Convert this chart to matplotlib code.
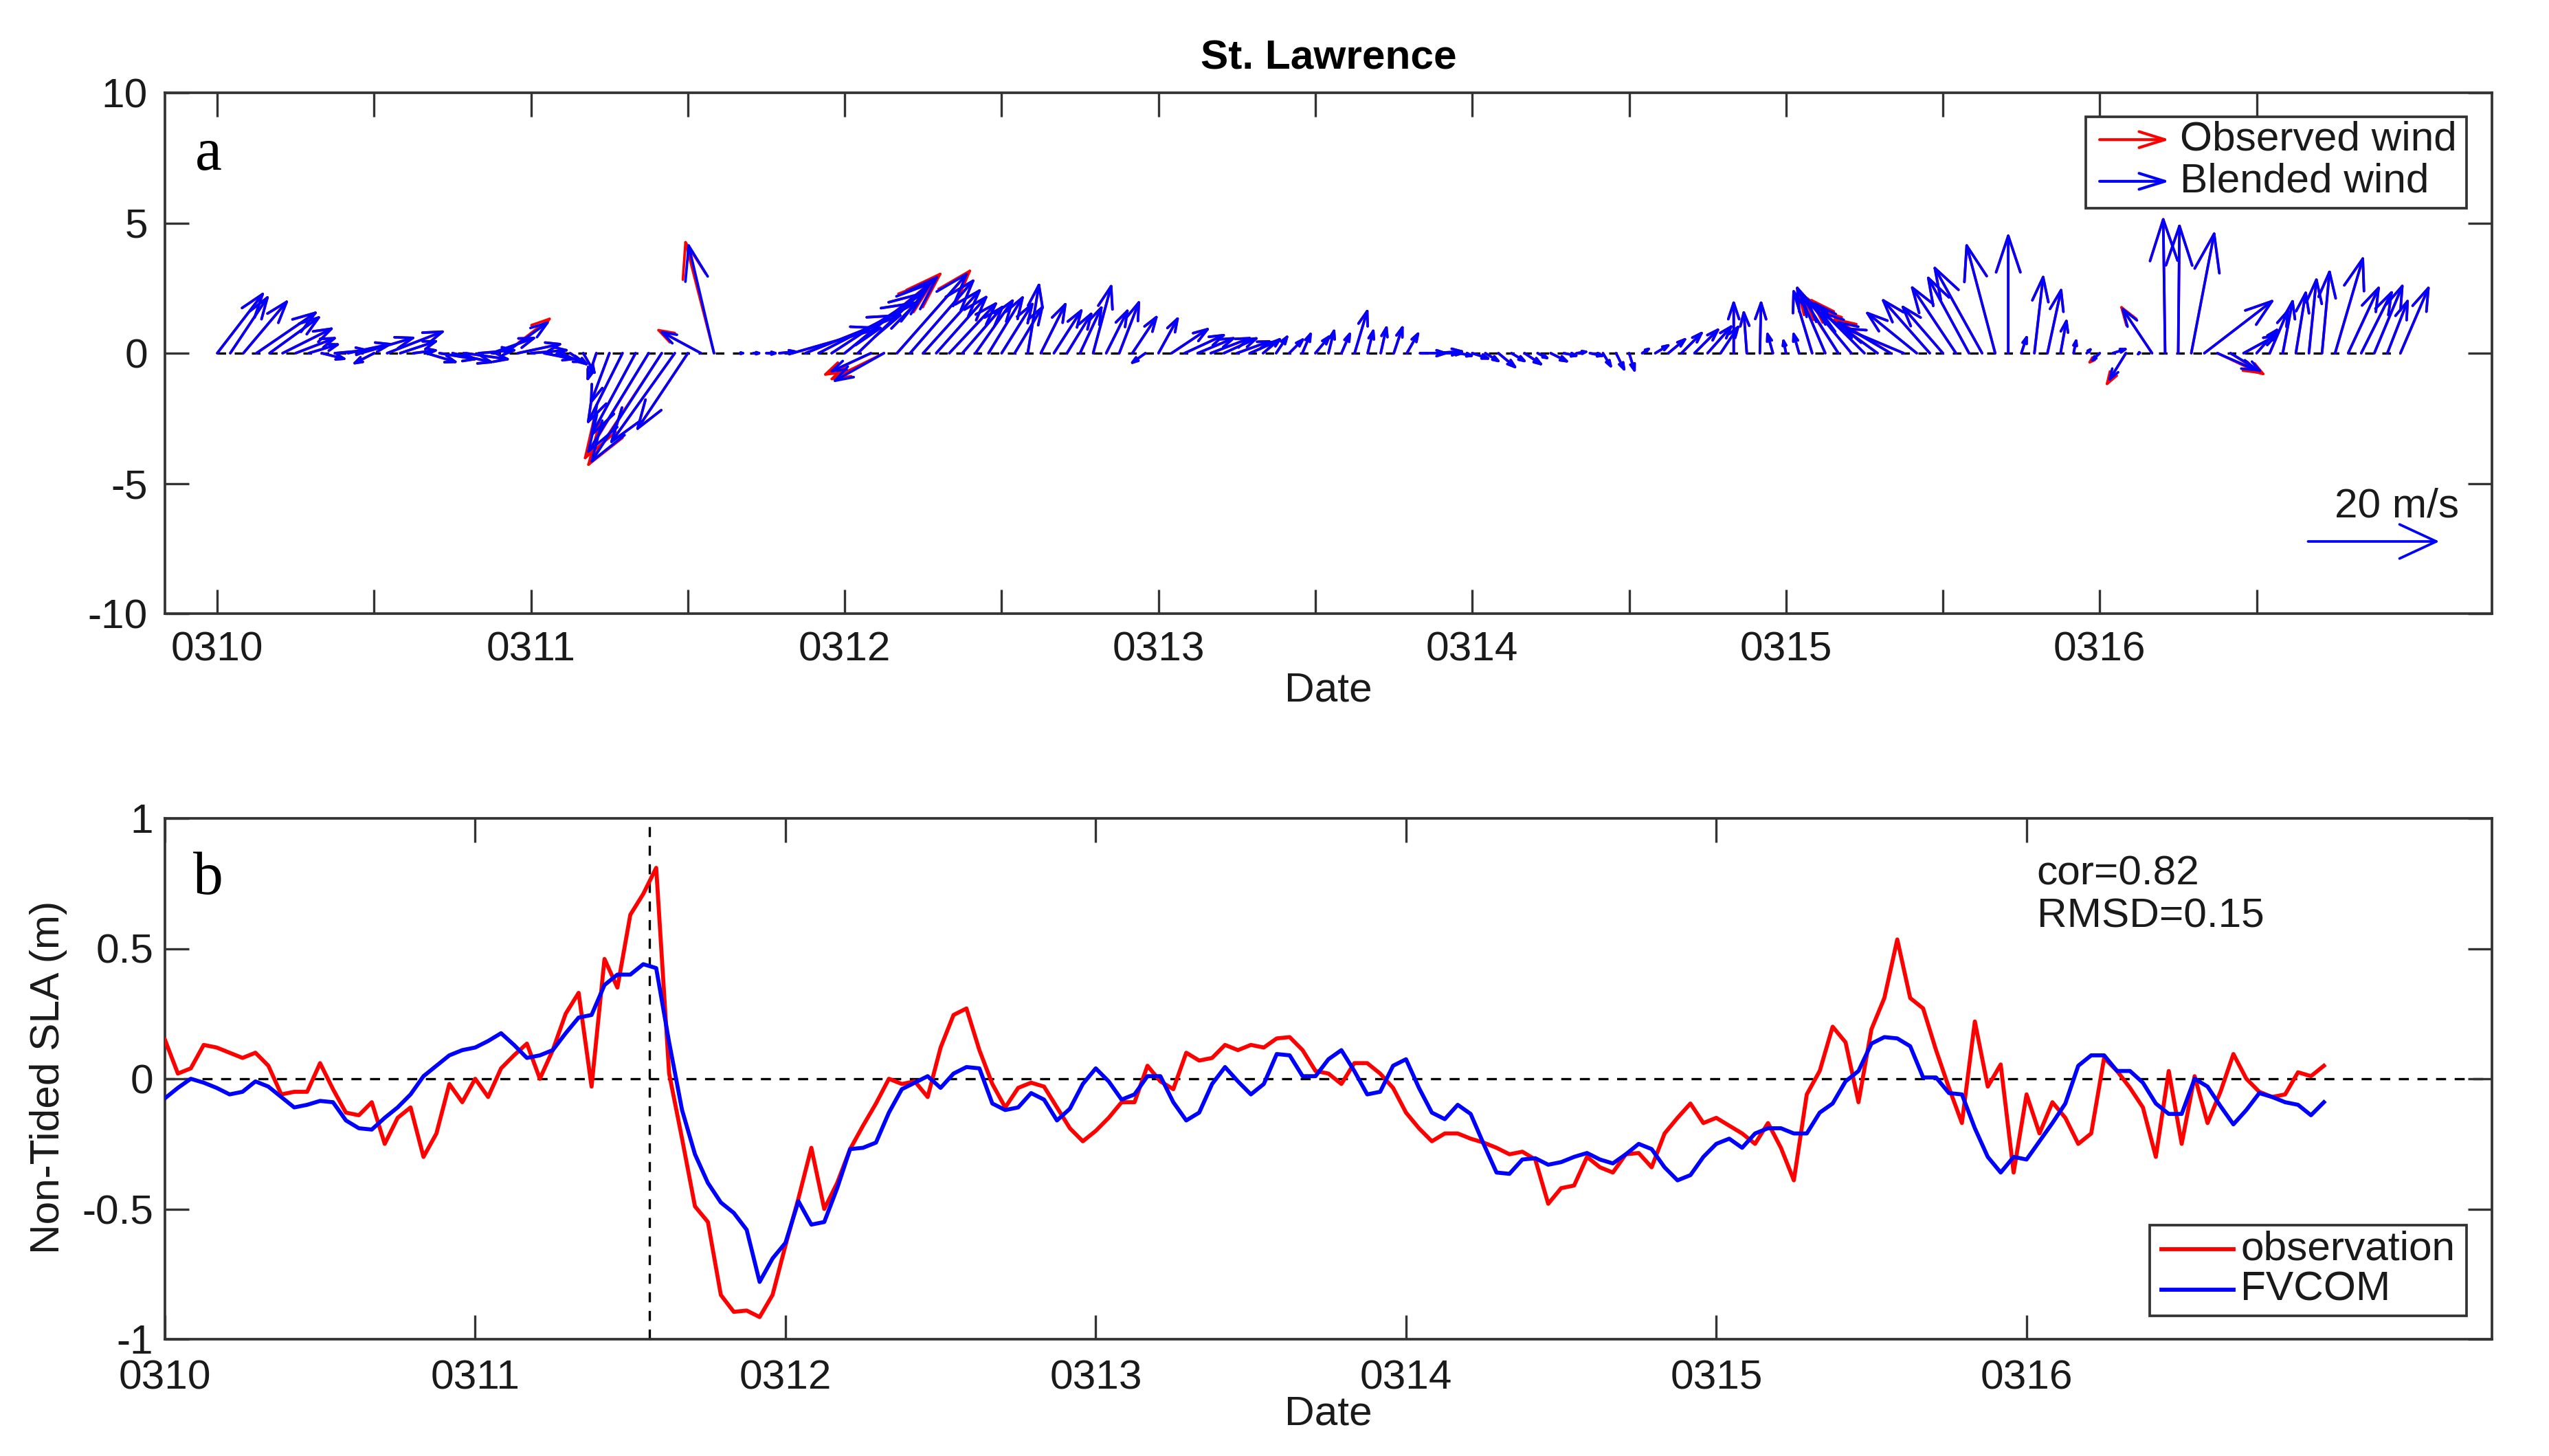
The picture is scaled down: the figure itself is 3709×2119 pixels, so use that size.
import numpy as np
import matplotlib
matplotlib.use("Agg")
import matplotlib.pyplot as plt
from matplotlib.patches import Rectangle, ArrowStyle

plt.rcParams['font.family'] = ['Liberation Sans', 'DejaVu Sans']
plt.rcParams['axes.unicode_minus'] = False
plt.rcParams['lines.scale_dashes'] = False

# ------------------------------------------------------------------ data
date_labels = ['0310', '0311', '0312', '0313', '0314', '0315', '0316']
title_text = 'St. Lawrence'

wind_hours = np.arange(168)          # hours after 0310 00:00
blend_u = np.array([
    7.3, 6.0, 7.0, 9.5, 8.0, 8.0, 6.5, 5.0, 4.0, 5.5,
    7.0, 8.5, -3.5, 9.0, 6.0, 4.0, 5.0, 6.0, 6.5, 7.0,
    6.0, 7.0, 7.0, 7.0, 6.0, 5.0, 4.5, 3.0, 2.0, -1.5,
    -3.0, -5.5, -7.0, -9.5, -11.0, -10.0, -8.0, -6.5, -4.0, 0.0,
    1.0, 1.5, 2.0, 3.0, 14.0, 15.0, 15.5, 14.5, 13.5, 12.5,
    -6.5, -8.0, 11.0, 10.0, 9.0, 8.0, 7.5, 6.5, 6.0, 5.5,
    5.0, 4.5, 1.8, 4.0, 4.5, 4.0, 3.5, 2.9, 3.5, 3.2,
    4.0, -2.5, 3.2, 6.0, 6.5, 6.0, 6.5, 5.5, 5.5, 4.5,
    3.0, 2.0, 2.5, 1.5, 2.5, 1.0, 1.5, 2.1, 1.0, 1.0,
    1.5, 2.0, 4.5, 5.0, 3.0, 2.5, 3.0, 2.5, 3.0, 2.5,
    3.0, 2.0, 3.0, 2.5, 2.0, 2.5, 1.5, 1.5, 1.0, 1.5,
    2.5, 3.0, 3.5, 4.0, 4.0, 3.0, 0.0, -0.5, 0.2, -1.0,
    -0.5, -1.0, -3.0, -4.5, -6.0, -7.0, -8.0, -9.0, -8.5, -9.5,
    -8.0, -7.5, -6.5, -7.0, -6.5, -7.5, -4.5, 0.0, 1.0, 1.4,
    2.2, 1.0, 0.5, 1.0, -1.6, 2.5, -2.8, -0.5, -4.8, -0.3,
    0.2, 3.6, 10.8, 6.4, 5.0, 5.5, 3.5, 3.0, 1.6, 1.6,
    1.2, 1.2, 4.4, 4.9, 4.9, 4.5, 3.3, 4.5])
blend_v = np.array([
    9.5, 9.0, 8.3, 6.5, 5.8, 4.0, 2.5, 1.5, -1.0, 0.5,
    1.5, 2.5, -1.8, 3.5, 2.0, 0.5, -1.5, -1.0, -1.5, -1.0,
    0.5, 2.5, 5.0, 1.5, 0.5, -1.0, -1.5, -2.0, -3.5, -4.5,
    -8.0, -11.0, -13.0, -15.5, -17.0, -14.0, -12.0, 3.5, 17.0, 0.0,
    0.0, 0.0, 0.0, 0.3, 4.0, 6.0, 8.0, 9.5, 11.0, 12.0,
    -3.0, -4.5, 12.5, 11.5, 10.0, 9.0, 8.0, 7.5, 8.5, 9.0,
    8.0, 7.5, 11.0, 8.0, 7.0, 6.5, 7.5, 10.8, 7.0, 8.3,
    6.0, -1.8, 5.8, 4.0, 3.0, 2.5, 2.5, 2.5, 2.0, 2.0,
    2.5, 3.0, 2.5, 3.5, 3.0, 4.0, 3.5, 7.0, 4.0, 4.5,
    4.5, 3.5, 0.0, 0.3, 0.0, -0.5, -1.0, -1.5, -2.5, -1.5,
    -2.0, -1.0, -1.5, -0.5, 0.3, -0.5, -2.5, -3.0, -3.2, 1.0,
    1.5, 2.5, 3.5, 4.0, 4.5, 4.5, 8.3, 6.8, 8.3, 3.5,
    2.5, 3.5, 10.0, 10.5, 9.5, 8.5, 8.0, 6.5, 5.0, 4.0,
    6.5, 8.5, 7.5, 10.5, 12.0, 13.5, 17.0, 18.5, 3.0, 12.2,
    10.2, 5.5, 2.5, 1.0, -1.5, 0.8, -4.5, -0.5, 7.2, 21.0,
    20.0, 18.8, 8.3, -2.8, -3.0, 3.0, 4.0, 7.0, 8.5, 9.8,
    11.8, 13.0, 15.0, 10.5, 9.8, 10.8, 8.5, 10.5])
obs_u = np.array([
    7.3, 6.0, 7.0, 9.5, 8.0, 8.0, 6.5, 5.0, 4.0, 5.5,
    7.0, 8.5, -3.5, 9.0, 6.0, 4.0, 5.0, 6.0, 6.5, 7.0,
    6.0, 7.0, 7.3, 7.0, 6.0, 5.0, 4.5, 3.0, 2.0, -1.5,
    -3.0, -5.5, -7.0, -10.0, -11.5, -10.0, -8.0, -7.0, -4.5, 0.0,
    1.0, 1.5, 2.0, 3.0, 14.0, 15.0, 15.5, 14.5, 14.0, 13.0,
    -7.5, -8.5, 11.5, 10.0, 9.0, 8.0, 7.5, 6.5, 6.0, 5.5,
    5.0, 4.5, 1.8, 4.0, 4.5, 4.0, 3.5, 2.9, 3.5, 3.2,
    4.0, -2.5, 3.2, 6.0, 6.5, 6.0, 6.5, 5.5, 5.5, 4.5,
    3.0, 2.0, 2.5, 1.5, 2.5, 1.0, 1.5, 2.1, 1.0, 1.0,
    1.5, 2.0, 4.5, 5.0, 3.0, 2.5, 3.0, 2.5, 3.0, 2.5,
    3.0, 2.0, 3.0, 2.5, 2.0, 2.5, 1.5, 1.5, 1.0, 1.5,
    2.5, 3.0, 3.5, 4.0, 4.0, 3.0, 0.0, -0.5, 0.2, -1.0,
    -0.5, -1.0, -3.0, -4.5, -6.5, -7.5, -8.5, -9.5, -9.0, -9.5,
    -8.0, -7.5, -6.5, -7.0, -6.5, -7.5, -4.5, 0.0, 1.0, 1.4,
    2.2, 1.0, 0.5, 1.0, -2.0, 2.5, -3.2, -0.5, -5.0, -0.3,
    0.2, 3.6, 10.8, 6.8, 5.5, 5.5, 3.5, 3.0, 1.6, 1.6,
    1.2, 1.2, 4.4, 4.9, 4.9, 4.5, 3.3, 4.5])
obs_v = np.array([
    9.5, 9.0, 8.3, 6.5, 5.8, 4.0, 2.5, 1.5, -1.0, 0.5,
    1.5, 2.5, -1.8, 3.5, 2.0, 0.5, -1.5, -1.0, -1.5, -1.0,
    0.5, 2.5, 5.6, 1.5, 0.5, -1.0, -1.5, -2.0, -3.5, -4.5,
    -8.0, -11.0, -13.0, -16.5, -17.5, -14.0, -12.0, 3.8, 17.5, 0.0,
    0.0, 0.0, 0.0, 0.3, 4.0, 6.0, 8.0, 9.5, 11.5, 12.5,
    -3.5, -4.2, 13.0, 11.5, 10.0, 9.0, 8.0, 7.5, 8.5, 9.0,
    8.0, 7.5, 11.0, 8.0, 7.0, 6.5, 7.5, 10.8, 7.0, 8.3,
    6.0, -1.8, 5.8, 4.0, 3.0, 2.5, 2.5, 2.5, 2.0, 2.0,
    2.5, 3.0, 2.5, 3.5, 3.0, 4.0, 3.5, 7.0, 4.0, 4.5,
    4.5, 3.5, 0.0, 0.3, 0.0, -0.5, -1.0, -1.5, -2.5, -1.5,
    -2.0, -1.0, -1.5, -0.5, 0.3, -0.5, -2.5, -3.0, -3.2, 1.0,
    1.5, 2.5, 3.5, 4.0, 4.5, 4.5, 8.3, 6.8, 8.3, 3.5,
    2.5, 3.5, 10.0, 10.5, 10.0, 9.0, 8.5, 7.0, 5.5, 4.0,
    6.5, 8.5, 7.5, 10.5, 12.0, 13.5, 17.0, 18.5, 3.0, 12.2,
    10.2, 5.5, 2.5, 1.0, -1.8, 0.8, -5.2, -0.5, 7.5, 21.0,
    20.0, 18.8, 8.3, -3.2, -3.5, 3.0, 4.0, 7.0, 8.5, 9.8,
    11.8, 13.0, 15.0, 10.5, 9.8, 10.8, 8.5, 10.5])

sla_hours = np.arange(168)
sla_obs = np.array([
    0.15, 0.02, 0.04, 0.13, 0.12, 0.10, 0.08, 0.10, 0.05, -0.06,
    -0.05, -0.05, 0.06, -0.04, -0.13, -0.14, -0.09, -0.25, -0.15, -0.11,
    -0.30, -0.21, -0.02, -0.09, 0.00, -0.07, 0.04, 0.09, 0.135, 0.00,
    0.11, 0.25, 0.33, -0.03, 0.46, 0.35, 0.63, 0.71, 0.81, 0.02,
    -0.23, -0.49, -0.55, -0.83, -0.895, -0.89, -0.915, -0.83, -0.64, -0.46,
    -0.265, -0.50, -0.40, -0.27, -0.18, -0.095, 0.00, -0.02, -0.01, -0.07,
    0.12, 0.245, 0.27, 0.11, -0.02, -0.11, -0.035, -0.015, -0.03, -0.11,
    -0.19, -0.24, -0.20, -0.15, -0.09, -0.09, 0.05, -0.01, -0.04, 0.10,
    0.07, 0.08, 0.13, 0.11, 0.13, 0.12, 0.155, 0.16, 0.11, 0.03,
    0.02, -0.02, 0.06, 0.06, 0.02, -0.035, -0.13, -0.19, -0.24, -0.21,
    -0.21, -0.23, -0.245, -0.265, -0.29, -0.28, -0.31, -0.48, -0.42, -0.41,
    -0.30, -0.34, -0.36, -0.29, -0.285, -0.34, -0.21, -0.15, -0.095, -0.17,
    -0.15, -0.18, -0.21, -0.25, -0.17, -0.265, -0.39, -0.06, 0.03, 0.20,
    0.14, -0.09, 0.19, 0.31, 0.535, 0.31, 0.27, 0.11, -0.035, -0.17,
    0.22, -0.03, 0.055, -0.36, -0.06, -0.21, -0.09, -0.15, -0.25, -0.21,
    0.08, 0.03, -0.035, -0.11, -0.30, 0.03, -0.25, 0.01, -0.17, -0.05,
    0.095, 0.0, -0.05, -0.07, -0.06, 0.025, 0.01, 0.05])
sla_fvcom = np.array([
    -0.075, -0.035, 0.0, -0.015, -0.035, -0.06, -0.05, -0.01, -0.03, -0.07,
    -0.11, -0.10, -0.085, -0.09, -0.16, -0.19, -0.195, -0.15, -0.11, -0.06,
    0.01, 0.05, 0.09, 0.11, 0.12, 0.145, 0.175, 0.13, 0.08, 0.09,
    0.11, 0.175, 0.235, 0.245, 0.36, 0.40, 0.40, 0.44, 0.425, 0.14,
    -0.12, -0.29, -0.40, -0.475, -0.515, -0.58, -0.78, -0.69, -0.63, -0.47,
    -0.56, -0.55, -0.42, -0.27, -0.265, -0.245, -0.13, -0.04, -0.015, 0.01,
    -0.035, 0.02, 0.045, 0.04, -0.095, -0.12, -0.11, -0.055, -0.08, -0.16,
    -0.115, -0.02, 0.04, -0.01, -0.08, -0.06, 0.01, 0.01, -0.09, -0.16,
    -0.13, -0.02, 0.045, -0.01, -0.06, -0.02, 0.095, 0.09, 0.01, 0.01,
    0.075, 0.11, 0.03, -0.06, -0.05, 0.05, 0.075, -0.035, -0.13, -0.155,
    -0.10, -0.135, -0.25, -0.36, -0.365, -0.31, -0.305, -0.33, -0.32, -0.30,
    -0.285, -0.31, -0.325, -0.29, -0.25, -0.27, -0.34, -0.39, -0.37, -0.30,
    -0.25, -0.23, -0.265, -0.21, -0.19, -0.19, -0.21, -0.21, -0.13, -0.095,
    -0.01, 0.03, 0.135, 0.16, 0.155, 0.125, 0.005, 0.005, -0.055, -0.06,
    -0.19, -0.30, -0.36, -0.30, -0.31, -0.24, -0.17, -0.095, 0.05, 0.09,
    0.09, 0.03, 0.03, -0.015, -0.095, -0.135, -0.135, 0.0, -0.03, -0.105,
    -0.175, -0.12, -0.055, -0.07, -0.09, -0.10, -0.14, -0.09])
surge_peak_hour = 37.5
ref_speed = 20.0
stats_lines = ['cor=0.82', 'RMSD=0.15']

# ------------------------------------------------------------------ style
W, H, DPI = 3709, 2119, 300
FS = 14.5
TXT = '#1a1a1a'
SPINE = '#333333'
RED, BLUE = '#ff0000', '#0000ff'
PT_PER_MS = 2.292          # arrow length (points) per m/s

fig = plt.figure(figsize=(W / DPI, H / DPI), dpi=DPI)
fig.patch.set_facecolor('white')
ax1 = fig.add_axes([240 / W, 1 - 893 / H, 3386 / W, 758 / H])
ax2 = fig.add_axes([240 / W, 1 - 1949 / H, 3386 / W, 758 / H])

for ax in (ax1, ax2):
    for s in ax.spines.values():
        s.set_color(SPINE)
        s.set_linewidth(0.9)
    ax.tick_params(which='both', direction='in', top=True, right=True,
                   length=8.5, width=0.8, color=SPINE, labelsize=FS,
                   labelcolor=TXT, pad=6)


def draw_wind(ax, hours, u, v, color, z):
    t = hours / 24.0
    for ti, ui, vi in zip(t, u, v):
        L = np.hypot(ui, vi) * PT_PER_MS
        if L < 0.5:
            continue
        style = ArrowStyle('<-', head_length=0.30 * L, head_width=0.10 * L)
        ax.annotate('', xy=(ti, 0), xycoords='data',
                    xytext=(ui * PT_PER_MS, vi * PT_PER_MS),
                    textcoords='offset points',
                    arrowprops=dict(arrowstyle=style, color=color, lw=0.9,
                                    shrinkA=0, shrinkB=0, mutation_scale=1),
                    zorder=z)


# ------------------------------------------------------------------ panel a
ax1.set_xlim(-1 / 6, 7.25)
ax1.set_ylim(-10, 10)
ax1.plot([wind_hours[0] / 24, wind_hours[-1] / 24], [0, 0], color='k',
         lw=0.8, dashes=(3, 3), zorder=1)
draw_wind(ax1, wind_hours, obs_u, obs_v, RED, 2)
draw_wind(ax1, wind_hours, blend_u, blend_v, BLUE, 3)

ax1.set_xticks(np.arange(len(date_labels)))
ax1.set_xticklabels(date_labels)
ax1.set_xticks(np.arange(len(date_labels)) + 0.5, minor=True)
ax1.set_yticks([-10, -5, 0, 5, 10])
ax1.set_yticklabels(['-10', '-5', '0', '5', '10'])

# reference arrow
Lref = ref_speed * PT_PER_MS
ax1.annotate('', xy=(6.664, -7.23), xycoords='data',
             xytext=(Lref, 0), textcoords='offset points',
             arrowprops=dict(arrowstyle=ArrowStyle('<-', head_length=0.28 * Lref,
                                                   head_width=0.13 * Lref),
                             color=BLUE, lw=0.9, shrinkA=0, shrinkB=0,
                             mutation_scale=1), zorder=4)
ax1.text(6.946, -5.88, '%d m/s' % ref_speed, ha='center', va='center',
         fontsize=FS, color=TXT)

# legend (panel a)
ax1.add_patch(Rectangle((0.8255, 0.7784), 0.1636, 0.1754, transform=ax1.transAxes,
                        facecolor='white', edgecolor=SPINE, lw=0.9, zorder=5))
for yy, col, lab in [(0.910, RED, 'Observed wind'), (0.830, BLUE, 'Blended wind')]:
    ax1.annotate('', xy=(0.8615, yy), xycoords='axes fraction',
                 xytext=(0.8314, yy), textcoords='axes fraction',
                 arrowprops=dict(arrowstyle=ArrowStyle('->', head_length=9, head_width=2.8),
                                 color=col, lw=1.0, shrinkA=0, shrinkB=0,
                                 mutation_scale=1), zorder=6)
    ax1.text(0.866, yy, lab, transform=ax1.transAxes, ha='left', va='center',
             fontsize=FS, color=TXT, zorder=7)

ax1.text(0.0186, 0.881, 'a', transform=ax1.transAxes, ha='center', va='center',
         fontsize=21, family=['Liberation Serif', 'DejaVu Serif'], color='k')

# ------------------------------------------------------------------ panel b
ax2.set_xlim(0, 7.5)
ax2.set_ylim(-1, 1)
ax2.axhline(0, color='k', lw=0.8, dashes=(3.5, 3), zorder=1)
ax2.axvline(surge_peak_hour / 24.0, color='k', lw=0.8, dashes=(3.5, 3), zorder=1)
l_obs, = ax2.plot(sla_hours / 24.0, sla_obs, color=RED, lw=1.4, zorder=3)
l_mod, = ax2.plot(sla_hours / 24.0, sla_fvcom, color=BLUE, lw=1.4, zorder=4)
ax2.set_xticks(np.arange(len(date_labels)))
ax2.set_xticklabels(date_labels)
ax2.set_yticks([-1, -0.5, 0, 0.5, 1])
ax2.set_yticklabels(['-1', '-0.5', '0', '0.5', '1'])
ax2.tick_params(axis='y', pad=4)
ax2.tick_params(axis='x', pad=7)

ax2.text(0.0186, 0.8826, 'b', transform=ax2.transAxes, ha='center', va='center',
         fontsize=21, family=['Liberation Serif', 'DejaVu Serif'], color='k')
ax2.text(0.8044, 0.893, stats_lines[0], transform=ax2.transAxes, ha='left',
         va='center', fontsize=FS, color=TXT)
ax2.text(0.8044, 0.811, stats_lines[1], transform=ax2.transAxes, ha='left',
         va='center', fontsize=FS, color=TXT)

# legend (panel b)
ax2.add_patch(Rectangle((0.8529, 0.0449), 0.1362, 0.1741, transform=ax2.transAxes,
                        facecolor='white', edgecolor=SPINE, lw=0.9, zorder=5))
for yy, col, lab in [(0.1728, RED, 'observation'), (0.095, BLUE, 'FVCOM')]:
    ax2.plot([0.858, 0.889], [yy, yy], transform=ax2.transAxes, color=col,
             lw=1.4, zorder=6)
    ax2.text(0.892, yy, lab, transform=ax2.transAxes, ha='left', va='center',
             fontsize=FS, color=TXT, zorder=7)

# ------------------------------------------------------------------ labels
fig.text(1933 / W, 1 - 85 / H, title_text, ha='center', va='center',
         fontsize=FS, fontweight='bold', color='k')
fig.text(1933 / W, 1 - 1005 / H, 'Date', ha='center', va='center',
         fontsize=FS, color=TXT)
fig.text(1933 / W, 1 - 2058 / H, 'Date', ha='center', va='center',
         fontsize=FS, color=TXT)
fig.text(71 / W, 1 - 1568 / H, 'Non-Tided SLA (m)', ha='center', va='center',
         rotation=90, fontsize=FS, color=TXT)

fig.savefig('out.png', dpi=DPI, facecolor='white')
